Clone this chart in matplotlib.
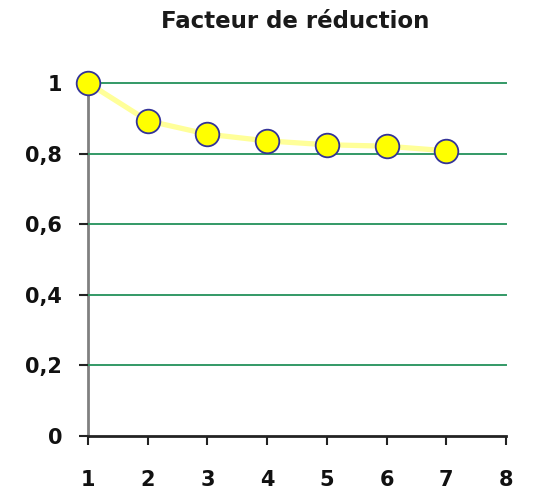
import matplotlib.pyplot as plt

# reduction factor per step
steps = [1, 2, 3, 4, 5, 6, 7]
factor = [1.0, 0.893, 0.855, 0.836, 0.825, 0.821, 0.808]
yticks = [0, 0.2, 0.4, 0.6, 0.8, 1.0]
ylabels = ['0', '0,2', '0,4', '0,6', '0,8', '1']
xticks = [1, 2, 3, 4, 5, 6, 7, 8]

fig = plt.figure(figsize=(5.43, 4.92), dpi=100)
ax = fig.add_axes([88/543, 1-436/492, 418/543, 353/492])

for y in yticks[1:]:
    ax.axhline(y, color='#339966', lw=1.4, zorder=1, clip_on=False)

ax.plot(steps, factor, color='#ffff99', lw=3.8, solid_joinstyle='round',
        solid_capstyle='round', zorder=2, clip_on=False)
ax.plot(steps, factor, ls='none', marker='o', ms=17, mfc='#ffff00',
        mec='#333399', mew=1.3, zorder=3, clip_on=False)

ax.set_xlim(1, 8)
ax.set_ylim(0, 1)
ax.set_xticks(xticks)
ax.set_xticklabels([str(x) for x in xticks])
ax.set_yticks(yticks)
ax.set_yticklabels(ylabels)

for s in ['top', 'right']:
    ax.spines[s].set_visible(False)
ax.spines['left'].set_color('#808080')
ax.spines['left'].set_linewidth(2)
ax.spines['bottom'].set_color('#222222')
ax.spines['bottom'].set_linewidth(2)
ax.spines['left'].set_zorder(0)

ax.tick_params(axis='y', length=6.5, width=1.5, color='#222222', pad=12,
               labelsize=15)
ax.tick_params(axis='x', length=6.5, width=1.5, color='#222222', pad=18,
               labelsize=15)
for lab in ax.get_xticklabels() + ax.get_yticklabels():
    lab.set_fontweight('bold')
    lab.set_color('#111111')

fig.text(295/543, 1-22/492, 'Facteur de réduction', ha='center', va='center',
         fontsize=16.5, fontweight='semibold', color='#1a1a1a')

fig.savefig('out.png', dpi=100)
